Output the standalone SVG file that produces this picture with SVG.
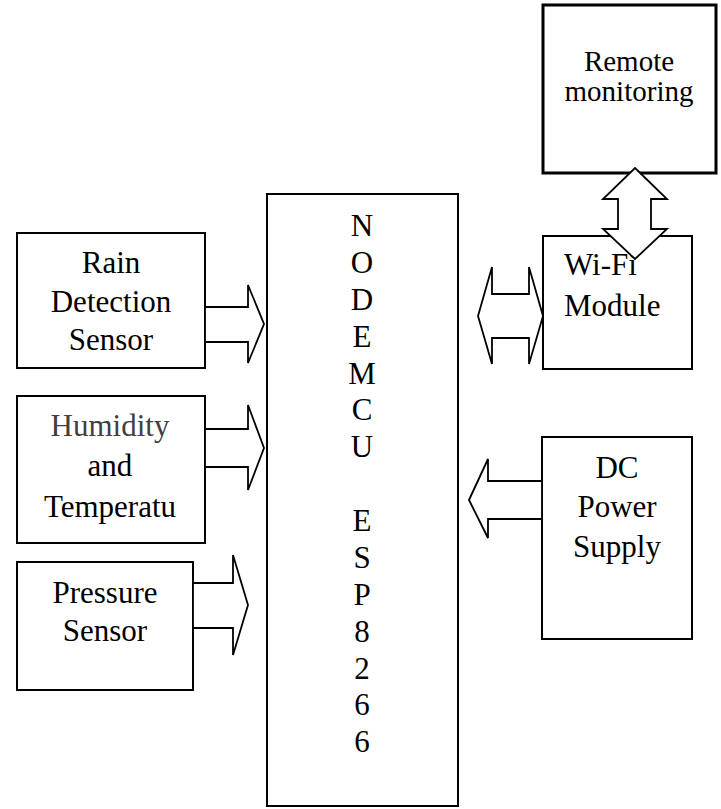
<svg xmlns="http://www.w3.org/2000/svg" width="721" height="809" viewBox="0 0 721 809">
<style>
.box{fill:#fff;stroke:#000;stroke-width:2}
.thick{stroke-width:3}
.arr{fill:#fff;stroke:#000;stroke-width:1.8;stroke-linejoin:miter}
.t{font-family:"Liberation Serif","Times New Roman",serif;font-size:31px;fill:#000}
.c{text-anchor:middle}
.gray{fill:#404040}
</style>
<rect x="0" y="0" width="721" height="809" fill="#fff"/>
<g id="nodemcu">
<rect class="box" x="267" y="194" width="191" height="612"/>
<text class="t c" x="362"><tspan x="362" y="236">N</tspan><tspan x="362" y="273">O</tspan><tspan x="362" y="310">D</tspan><tspan x="362" y="347">E</tspan><tspan x="362" y="384">M</tspan><tspan x="362" y="420">C</tspan><tspan x="362" y="457">U</tspan><tspan x="362" y="531">E</tspan><tspan x="362" y="568">S</tspan><tspan x="362" y="605">P</tspan><tspan x="362" y="642">8</tspan><tspan x="362" y="679">2</tspan><tspan x="362" y="715">6</tspan><tspan x="362" y="752">6</tspan></text>
</g>
<g id="rain">
<rect class="box" x="17" y="233" width="188" height="135"/>
<text class="t c" x="111" y="273">Rain</text>
<text class="t c" x="111" y="312">Detection</text>
<text class="t c" x="111" y="350">Sensor</text>
</g>
<g id="humidity">
<rect class="box" x="17" y="396" width="188" height="147"/>
<text class="t c gray" x="110" y="436">Humidity</text>
<text class="t c" x="110" y="476">and</text>
<text class="t c" x="110" y="517">Temperatu</text>
</g>
<g id="pressure">
<rect class="box" x="17" y="562" width="176" height="128"/>
<text class="t c" x="105" y="603">Pressure</text>
<text class="t c" x="105" y="641">Sensor</text>
</g>
<g id="remote">
<rect class="box thick" x="543" y="5" width="173" height="168"/>
<text class="t c" x="629" y="71" style="font-size:29px">Remote</text>
<text class="t c" x="629" y="101" style="font-size:29px">monitoring</text>
</g>
<g id="wifi">
<rect class="box" x="543" y="236" width="149" height="133"/>
<text class="t" x="564" y="275">Wi-Fi</text>
<text class="t" x="564" y="316">Module</text>
</g>
<g id="dc">
<rect class="box" x="542" y="437" width="150" height="202"/>
<text class="t c" x="617" y="478">DC</text>
<text class="t c" x="617" y="517">Power</text>
<text class="t c" x="617" y="557">Supply</text>
</g>
<g id="connectors">
<polygon class="arr" points="205,307 248,307 248,285 264,324 248,363 248,342 205,342"/>
<polygon class="arr" points="205,429 248,429 248,405 264,448 248,490 248,467 205,467"/>
<polygon class="arr" points="193,583 233,583 233,555 248,605 233,655 233,628 193,628"/>
<polygon class="arr" points="478,316 492,267 492,294 529,294 529,267 543,316 529,364 529,338 492,338 492,364"/>
<polygon class="arr" points="635,168 667,199 651,199 651,229 667,229 635,259 603,229 618,229 618,199 603,199"/>
<polygon class="arr" points="469,500 488,459 488,481 542,481 542,519 488,519 488,538"/>
</g>
</svg>
